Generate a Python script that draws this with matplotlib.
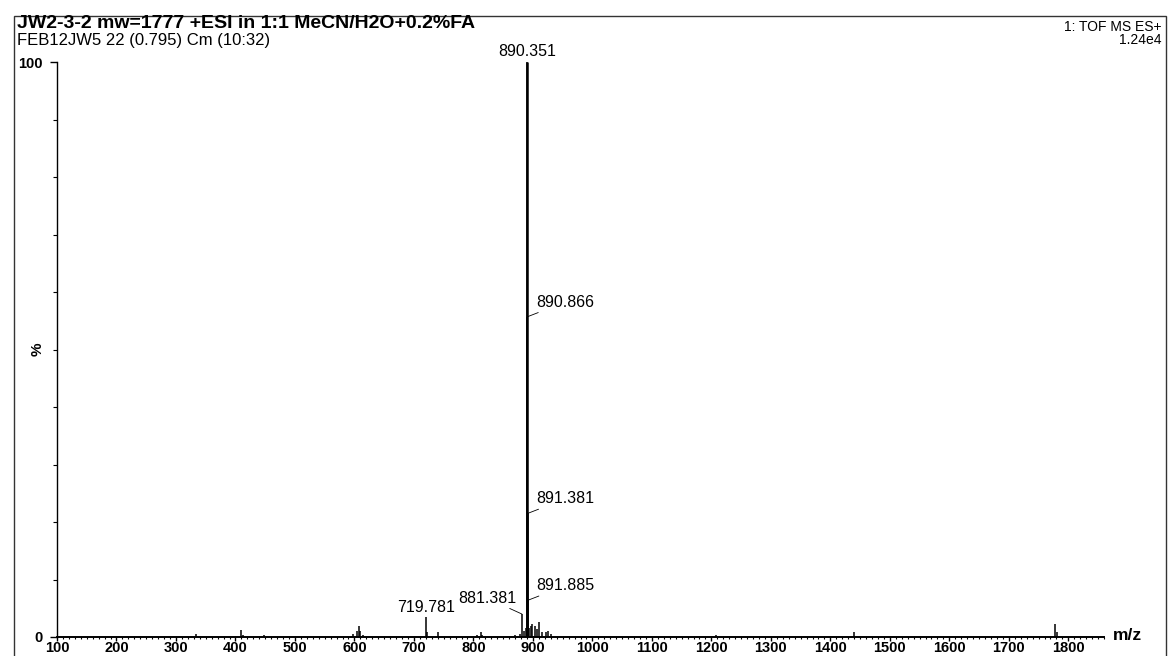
import matplotlib
matplotlib.use('Agg')
import matplotlib.pyplot as plt
from matplotlib.ticker import MultipleLocator
from matplotlib.patches import Rectangle

plt.rcParams['font.family'] = ['Liberation Sans', 'DejaVu Sans']

# spectrum sticks (m/z, relative intensity %)
mz = [334, 410, 413, 448, 598, 604, 607, 610, 615, 719.781, 722, 740,
      806, 812, 815, 870, 878, 881.381, 885, 888, 890.351, 890.866,
      891.381, 891.885, 893, 896, 899, 903, 907, 910, 915, 922, 926, 930,
      1208, 1440, 1778, 1781]
intensity = [0.6, 1.2, 0.4, 0.3, 0.6, 1.0, 2.0, 1.0, 0.4, 3.4, 0.8, 0.9,
             0.4, 0.8, 0.4, 0.3, 0.5, 4.0, 1.0, 1.5, 100, 55.7,
             21.5, 6.4, 1.5, 2.0, 2.2, 1.9, 1.4, 2.6, 0.8, 0.8, 1.0, 0.5,
             0.3, 0.8, 2.2, 0.8]

# labelled peaks
label_mz = [890.351, 890.866, 891.381, 891.885, 881.381, 719.781]
label_int = [100, 55.7, 21.5, 6.4, 4.0, 3.4]
label_text = ['890.351', '890.866', '891.381', '891.885', '881.381', '719.781']

x_ticks = list(range(100, 1900, 100))

fig = plt.figure(figsize=(11.69, 6.56), dpi=100)
ax = fig.add_axes([57 / 1169, 1 - 637 / 656, (1104 - 57) / 1169, (637 - 62) / 656])

ax.vlines(mz, 0, intensity, colors='black', linewidth=1.1)
# main peak drawn a bit heavier
ax.vlines([890.351], 0, [100], colors='black', linewidth=1.8)

ax.set_xlim(100, 1860)
ax.set_ylim(0, 100)

for s in ['top', 'right']:
    ax.spines[s].set_visible(False)
ax.spines['left'].set_linewidth(1.0)
ax.spines['bottom'].set_linewidth(1.4)

ax.set_xticks(x_ticks)
ax.set_xticklabels([str(v) for v in x_ticks], fontsize=10.5, fontweight='bold')
ax.xaxis.set_minor_locator(MultipleLocator(10))
ax.tick_params(axis='x', which='major', length=3, width=1, pad=0, direction='out')
ax.tick_params(axis='x', which='minor', length=1.5, width=0.8, direction='out')

ax.set_yticks([0, 100])
ax.set_yticklabels(['0', '100'], fontsize=10.5, fontweight='bold')
ax.yaxis.set_minor_locator(MultipleLocator(10))
ax.tick_params(axis='y', which='major', length=5, width=1, pad=5)
ax.tick_params(axis='y', which='minor', length=3, width=0.8)
ax.text(-0.012, 50, '%', transform=ax.get_yaxis_transform(), rotation=90,
        ha='right', va='center', fontsize=11, fontweight='bold')

ax.text(1.008, 0.3, 'm/z', transform=ax.get_yaxis_transform(), ha='left', va='center',
        fontsize=12.5, fontweight='bold')

# peak labels
fs = 11.5
ax.annotate(label_text[0], (label_mz[0], label_int[0]), xytext=(0, 2),
            textcoords='offset points', ha='center', va='bottom', fontsize=fs)
for i in [1, 2, 3]:
    ax.annotate(label_text[i], (label_mz[i], label_int[i]), xytext=(6, 5),
                textcoords='offset points', ha='left', va='bottom', fontsize=fs,
                arrowprops=dict(arrowstyle='-', lw=0.6, color='black',
                                shrinkA=0, shrinkB=0))
ax.annotate(label_text[4], (label_mz[4], label_int[4]), xytext=(-4, 6),
            textcoords='offset points', ha='right', va='bottom', fontsize=fs,
            arrowprops=dict(arrowstyle='-', lw=0.6, color='black',
                            shrinkA=0, shrinkB=0))
ax.annotate(label_text[5], (label_mz[5], label_int[5]), xytext=(0, 2),
            textcoords='offset points', ha='center', va='bottom', fontsize=fs)

# header text
fig.text(17 / 1169, 1 - 24 / 656, 'JW2-3-2 mw=1777 +ESI in 1:1 MeCN/H2O+0.2%FA',
         fontsize=14, fontweight='bold', va='center', ha='left')
fig.text(17 / 1169, 1 - 41 / 656, 'FEB12JW5 22 (0.795) Cm (10:32)',
         fontsize=12, va='center', ha='left')
fig.text(1161 / 1169, 1 - 27 / 656, '1: TOF MS ES+', fontsize=10, va='center', ha='right')
fig.text(1161 / 1169, 1 - 40 / 656, '1.24e4', fontsize=10, va='center', ha='right')

# page frame
fig.add_artist(Rectangle((14 / 1169, -0.01), (1166 - 14) / 1169, 1 - 16 / 656 + 0.01,
                         transform=fig.transFigure, fill=False, lw=1.0,
                         edgecolor='#333333'))

fig.savefig('out.png', dpi=100)
